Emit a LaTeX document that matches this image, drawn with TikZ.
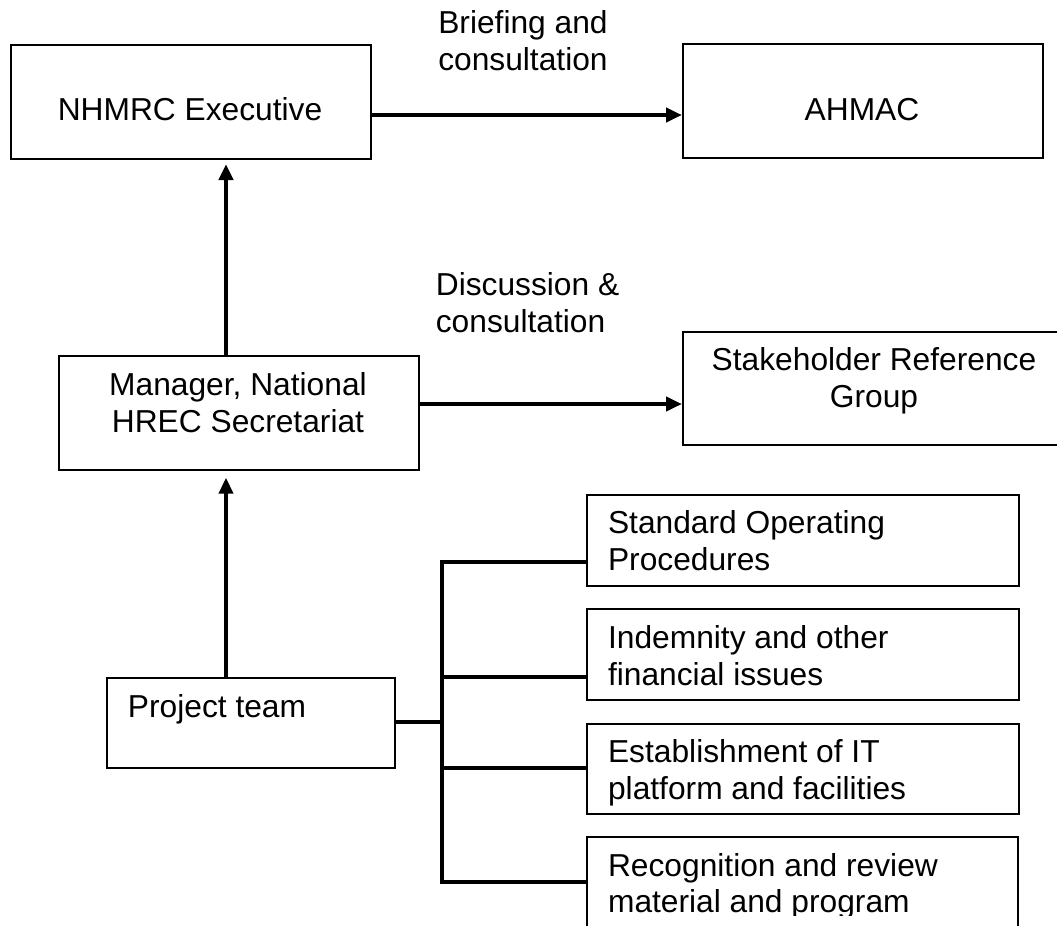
\documentclass[tikz,border=0pt]{standalone}
\usepackage{fontspec}
\setmainfont{Liberation Sans}
\usetikzlibrary{arrows.meta}
\begin{document}
\begin{tikzpicture}[x=0.75pt,y=-0.75pt,
  box/.style={draw, line width=1.5pt, inner sep=0pt, anchor=north west},
  txt/.style={inner sep=0pt, font=\fontsize{23.8}{27.5}\selectfont},
  flow/.style={line width=3pt, -{Triangle[length=12pt,width=10.5pt]}},
  tree/.style={line width=2.7pt}]
\useasboundingbox (0,0) rectangle (1057,925);
\clip (0,0) rectangle (1057,925);

% boxes
\node[box, minimum width=270.4pt, minimum height=85.9pt] (nhmrc) at (9.5,43.5) {};
\node[box, minimum width=270pt, minimum height=85.5pt] (ahmac) at (682,43) {};
\node[box, minimum width=270pt, minimum height=85.5pt] (mgr) at (58,355) {};
\node[box, minimum width=288pt, minimum height=84.75pt] (srg) at (682,331) {};
\node[box, minimum width=216.2pt, minimum height=67.7pt] (proj) at (105.7,676.7) {};
\node[box, minimum width=324pt, minimum height=68.25pt] (sop) at (586,494) {};
\node[box, minimum width=324pt, minimum height=68.25pt] (ind) at (586,608) {};
\node[box, minimum width=324pt, minimum height=67.5pt] (itp) at (586,723) {};
\node[box, minimum width=323.25pt, minimum height=75pt] (rec) at (586,836) {};

% box texts (multi-line nodes are anchored on their last baseline)
\node[txt, anchor=base] (tnhmrc) at (190,120.7) {NHMRC Executive};
\node[txt, anchor=base] (tahmac) at (862,120) {AHMAC};
\node[txt, anchor=base, align=center] (tmgr) at (238,432) {Manager, National\\HREC Secretariat};
\node[txt, anchor=base, align=center] (tsrg) at (874,407.5) {Stakeholder Reference\\Group};
\node[txt, anchor=base west] (tproj) at (127.7,717) {Project team};
\node[txt, anchor=base west, align=left] (tsop) at (607.8,570) {Standard Operating\\Procedures};
\node[txt, anchor=base west, align=left] (tind) at (607.8,685) {Indemnity and other\\financial issues};
\node[txt, anchor=base west, align=left] (titp) at (607.8,799) {Establishment of IT\\platform and facilities};
\begin{scope}
  \clip (586,836) rectangle (1017,915);
  \node[txt, anchor=base west, align=left] (trec) at (607.8,912.7) {Recognition and review\\material and program};
\end{scope}

% connector labels
\node[txt, anchor=base west, align=left] (lbrief) at (438,70.5) {Briefing and\\consultation};
\node[txt, anchor=base west, align=left] (ldisc) at (435.6,332) {Discussion \&\\consultation};

% reporting arrows
\draw[flow] (nhmrc.east |- 0,115) -- (ahmac.west |- 0,115);
\draw[flow] (mgr.east |- 0,404) -- (srg.west |- 0,404);
\draw[flow, shorten >=3pt] (mgr.north -| 226,0) -- (nhmrc.south -| 226,0);
\draw[flow, shorten >=5pt] (proj.north -| 226,0) -- (mgr.south -| 226,0);

% project team work streams
\coordinate (jS) at (442,562);
\coordinate (jI) at (442,677);
\coordinate (jP) at (442,722);
\coordinate (jT) at (442,768);
\coordinate (jR) at (442,882);
\draw[tree] (jS -| sop.west) -- (jS) -- (jR) -- (jR -| rec.west);
\draw[tree] (jI) -- (jI -| ind.west);
\draw[tree] (jT) -- (jT -| itp.west);
\draw[tree] (proj.east |- jP) -- (jP);
\end{tikzpicture}
\end{document}
